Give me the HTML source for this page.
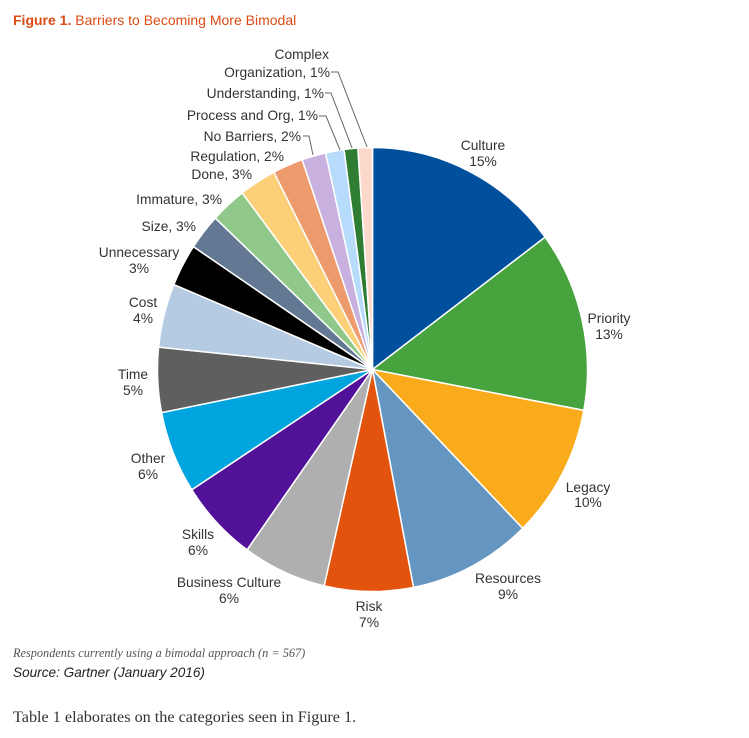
<!DOCTYPE html>
<html><head><meta charset="utf-8"><style>
body{margin:0;background:#fff;width:749px;height:738px;overflow:hidden}
svg{position:absolute;left:0;top:0}
.t{font-family:"Liberation Sans",Arial,sans-serif;font-size:13.8px;fill:#333}
</style></head><body>
<svg width="749" height="738" xmlns="http://www.w3.org/2000/svg">
<text x="13" y="25" font-family="Liberation Sans,Arial,sans-serif" font-size="14" fill="#dd4b14"><tspan font-weight="bold">Figure 1.</tspan> Barriers to Becoming More Bimodal</text>
<g id="pie"></g>
<g fill="none" stroke="#666" stroke-width="1">
<polyline points="331,72 338,72 367,147"/>
<polyline points="325,93 331,93 352,148"/>
<polyline points="319,116 326,116 340,150"/>
<polyline points="303,136 309,136 313,155"/>
</g>
<g class="t" text-anchor="middle">
<text x="483" y="150">Culture</text><text x="483" y="166">15%</text>
<text x="609" y="323">Priority</text><text x="609" y="339">13%</text>
<text x="588" y="492">Legacy</text><text x="588" y="507">10%</text>
<text x="508" y="583">Resources</text><text x="508" y="599">9%</text>
<text x="369" y="611">Risk</text><text x="369" y="627">7%</text>
<text x="229" y="587">Business Culture</text><text x="229" y="603">6%</text>
<text x="198" y="539">Skills</text><text x="198" y="555">6%</text>
<text x="148" y="463">Other</text><text x="148" y="479">6%</text>
<text x="133" y="379">Time</text><text x="133" y="395">5%</text>
<text x="143" y="307">Cost</text><text x="143" y="323">4%</text>
<text x="139" y="257">Unnecessary</text><text x="139" y="273">3%</text>
</g>
<g class="t" text-anchor="end">
<text x="196" y="231">Size, 3%</text>
<text x="222" y="204">Immature, 3%</text>
<text x="252" y="179">Done, 3%</text>
<text x="284" y="161">Regulation, 2%</text>
<text x="301" y="141">No Barriers, 2%</text>
<text x="318" y="120">Process and Org, 1%</text>
<text x="324" y="98">Understanding, 1%</text>
<text x="329" y="59">Complex</text>
<text x="330" y="77">Organization, 1%</text>
</g>
<text x="13" y="657" font-family="Liberation Serif,serif" font-style="italic" font-size="12.3" fill="#555">Respondents currently using a bimodal approach (n = 567)</text>
<text x="13" y="677" font-family="Liberation Sans,Arial,sans-serif" font-style="italic" font-size="13.6" fill="#222">Source: Gartner (January 2016)</text>
<text x="13" y="722" font-family="Liberation Serif,serif" font-size="16.2" fill="#333">Table 1 elaborates on the categories seen in Figure 1.</text>
</svg>
<script>
var b=[0,53.4,100.6,135.7,169,193,215.7,237.2,258.8,275.8,292.5,303.6,313,322.7,332.7,340.9,347.4,352.4,356.1,360];
var c=["#00509e","#46a33e","#f9ab1b","#6595c1","#e2540e","#afafaf","#521199","#00a5e0","#5f5f5f","#b4cbe2","#000000","#627893","#8fc888","#fbd078","#ed9a6c","#c8b1de","#b7dcfb","#2e7d32","#fcd9ca"];
var cx=372.5,cy=369.5,rx=215,ry=222,h="";
function p(a){a=a*Math.PI/180;return [(cx+rx*Math.sin(a)).toFixed(2),(cy-ry*Math.cos(a)).toFixed(2)];}
for(var i=0;i<19;i++){var s=p(b[i]),e=p(b[i+1]),l=(b[i+1]-b[i])>180?1:0;
h+='<path d="M'+cx+','+cy+' L'+s[0]+','+s[1]+' A'+rx+','+ry+' 0 '+l+' 1 '+e[0]+','+e[1]+' Z" fill="'+c[i]+'" stroke="#fff" stroke-width="1.5"/>';}
document.getElementById("pie").innerHTML=h;
</script>
</body></html>
